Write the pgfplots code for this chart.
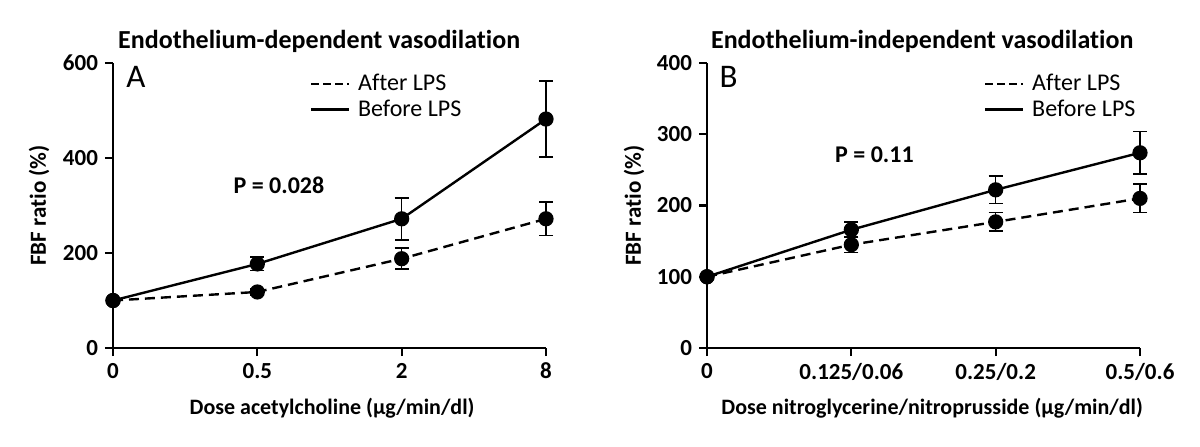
\documentclass[border=0pt]{standalone}
\usepackage{pgfplots}
\pgfplotsset{compat=1.18}
\usepackage{fontspec}
\setmainfont{Carlito}[Ligatures=NoCommon]
\begin{document}
\begin{tikzpicture}
\path[use as bounding box] (0,0) rectangle (600pt,223pt);
\pgfplotsset{
  panel/.style={
    scale only axis, width=216.5pt, height=142.5pt, anchor=south west,
    axis x line*=bottom, axis y line*=left,
    axis line style={line width=1.1pt,-},
    every tick/.style={line width=1.1pt,black},
    major tick length=4pt, tick align=outside,
    xmin=0, xmax=3, xtick={0,1,2,3},
    ymin=0,
    /pgf/number format/assume math mode=true,
    tick label style={font=\fontsize{11.5}{12}\selectfont\bfseries},
    clip=false,
    legend style={draw=none, fill=none, font=\fontsize{12}{13}\selectfont, row sep=-1pt, anchor=north west, nodes={inner xsep=4pt}},
    legend cell align=left,
    legend image code/.code={\draw[#1] (0pt,0pt) -- (19pt,0pt);},
  },
  aft/.style={black, line width=1.2pt, dash pattern=on 5pt off 3pt, mark=*, mark size=3.2pt, mark options={solid, fill=black},
    error bars/.cd, y dir=both, y explicit, error bar style={line width=0.8pt, solid}, error mark options={rotate=90, mark size=3.5pt, line width=0.8pt, solid}, /pgfplots/.cd},
  bef/.style={black, line width=1.2pt, mark=*, mark size=3.2pt, mark options={fill=black},
    error bars/.cd, y dir=both, y explicit, error bar style={line width=0.8pt}, error mark options={rotate=90, mark size=3.5pt, line width=0.8pt}, /pgfplots/.cd},
}
\begin{axis}[panel, at={(56.5pt,49pt)}, ymax=600, ytick={0,200,400,600},
  xticklabels={0,0.5,2,8},
  legend style={at={(rel axis cs:0.44,0.99)}}]
\addplot[forget plot, aft] coordinates {(0,100) +- (0,0) (1,118) +- (0,6) (2,188) +- (0,22) (3,272) +- (0,35)};
\addplot[forget plot, bef] coordinates {(0,100) +- (0,0) (1,177) +- (0,14) (2,272) +- (0,44) (3,482) +- (0,80)};
\addlegendimage{black, line width=1.1pt, dash pattern=on 4pt off 2pt}
\addlegendentry{After LPS}
\addlegendimage{black, line width=1.1pt}
\addlegendentry{Before LPS}
\node[font=\fontsize{12}{13}\selectfont\bfseries] at (axis cs:1.15,343) {P = 0.028};
\node[font=\fontsize{16.5}{18}\selectfont, anchor=center] at (rel axis cs:0.053,0.95) {A};
\node[font=\fontsize{13}{14}\selectfont\bfseries, anchor=center] at (rel axis cs:0.476,1.075) {Endothelium-dependent vasodilation};
\node[font=\fontsize{11.5}{12}\selectfont\bfseries, rotate=90, anchor=center] at ([xshift=-37pt]rel axis cs:0,0.5) {FBF ratio (\%)};
\node[font=\fontsize{11}{12}\selectfont\bfseries, anchor=center] at ([yshift=-30pt]rel axis cs:0.506,0) {Dose acetylcholine (µg/min/dl)};
\end{axis}
\begin{axis}[panel, at={(353.5pt,49pt)}, ymax=400, ytick={0,100,200,300,400},
  xticklabels={0,0.125/0.06,0.25/0.2,0.5/0.6},
  legend style={at={(rel axis cs:0.625,0.99)}}]
\addplot[forget plot, aft] coordinates {(0,100) +- (0,0) (1,145) +- (0,11) (2,177) +- (0,13) (3,210) +- (0,20)};
\addplot[forget plot, bef] coordinates {(0,100) +- (0,0) (1,166) +- (0,11) (2,222) +- (0,19) (3,274) +- (0,30)};
\addlegendimage{black, line width=1.1pt, dash pattern=on 4pt off 2pt}
\addlegendentry{After LPS}
\addlegendimage{black, line width=1.1pt}
\addlegendentry{Before LPS}
\node[font=\fontsize{12}{13}\selectfont\bfseries] at (axis cs:1.16,271) {P = 0.11};
\node[font=\fontsize{16.5}{18}\selectfont, anchor=center] at (rel axis cs:0.05,0.95) {B};
\node[font=\fontsize{13}{14}\selectfont\bfseries, anchor=center] at (rel axis cs:0.497,1.075) {Endothelium-independent vasodilation};
\node[font=\fontsize{11.5}{12}\selectfont\bfseries, rotate=90, anchor=center] at ([xshift=-36.5pt]rel axis cs:0,0.5) {FBF ratio (\%)};
\node[font=\fontsize{11}{12}\selectfont\bfseries, anchor=center] at ([yshift=-30pt]rel axis cs:0.52,0) {Dose nitroglycerine/nitroprusside (µg/min/dl)};
\end{axis}
\end{tikzpicture}
\end{document}
